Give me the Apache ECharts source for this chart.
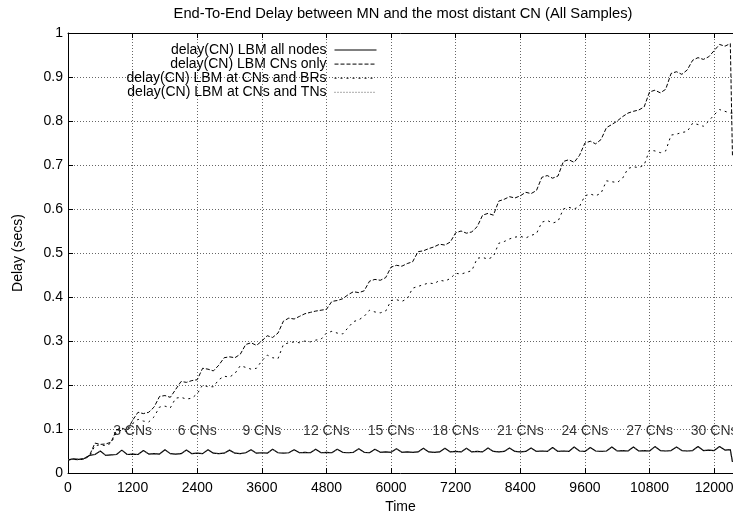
<!DOCTYPE html>
<html>
<head>
<meta charset="utf-8">
<script src="https://cdn.jsdelivr.net/npm/echarts@6/dist/echarts.min.js"></script>
<style>
    html, body { margin: 0; padding: 0; background: #fff; }
    #chart { width: 733px; height: 519px; }
</style>
</head>
<body>
<div id="chart"></div>
<script>
var times = [
    0, 100, 200, 300, 400, 500, 600, 700, 800, 900,
    1000, 1100, 1200, 1300, 1400, 1500, 1600, 1700, 1800, 1900,
    2000, 2100, 2200, 2300, 2400, 2500, 2600, 2700, 2800, 2900,
    3000, 3100, 3200, 3300, 3400, 3500, 3600, 3700, 3800, 3900,
    4000, 4100, 4200, 4300, 4400, 4500, 4600, 4700, 4800, 4900,
    5000, 5100, 5200, 5300, 5400, 5500, 5600, 5700, 5800, 5900,
    6000, 6100, 6200, 6300, 6400, 6500, 6600, 6700, 6800, 6900,
    7000, 7100, 7200, 7300, 7400, 7500, 7600, 7700, 7800, 7900,
    8000, 8100, 8200, 8300, 8400, 8500, 8600, 8700, 8800, 8900,
    9000, 9100, 9200, 9300, 9400, 9500, 9600, 9700, 9800, 9900,
    10000, 10100, 10200, 10300, 10400, 10500, 10600, 10700, 10800, 10900,
    11000, 11100, 11200, 11300, 11400, 11500, 11600, 11700, 11800, 11900,
    12000, 12100, 12200, 12300, 12320, 12340
];

var allNodesDelay = [
    0.030, 0.032, 0.031, 0.033, 0.040, 0.042, 0.050, 0.040, 0.041, 0.042,
    0.052, 0.042, 0.043, 0.042, 0.051, 0.043, 0.044, 0.043, 0.053, 0.044,
    0.043, 0.044, 0.052, 0.044, 0.045, 0.044, 0.053, 0.045, 0.044, 0.045,
    0.052, 0.045, 0.044, 0.046, 0.053, 0.045, 0.046, 0.045, 0.054, 0.046,
    0.045, 0.046, 0.053, 0.046, 0.047, 0.046, 0.054, 0.046, 0.047, 0.046,
    0.054, 0.047, 0.046, 0.047, 0.055, 0.047, 0.046, 0.054, 0.047, 0.048,
    0.047, 0.055, 0.047, 0.048, 0.047, 0.048, 0.056, 0.048, 0.047, 0.048,
    0.056, 0.048, 0.049, 0.048, 0.056, 0.048, 0.049, 0.048, 0.057, 0.049,
    0.048, 0.049, 0.057, 0.049, 0.048, 0.049, 0.057, 0.049, 0.050, 0.049,
    0.058, 0.049, 0.050, 0.049, 0.059, 0.050, 0.049, 0.058, 0.050, 0.049,
    0.050, 0.059, 0.050, 0.051, 0.050, 0.059, 0.050, 0.051, 0.050, 0.060,
    0.051, 0.050, 0.051, 0.059, 0.051, 0.050, 0.051, 0.060, 0.051, 0.052,
    0.051, 0.060, 0.052, 0.053, 0.056, 0.025
];

var cnsOnlyDelay = [
    0.030, 0.031, 0.030, 0.032, 0.040, 0.068, 0.065, 0.066, 0.070, 0.098,
    0.102, 0.097, 0.120, 0.138, 0.135, 0.138, 0.150, 0.174, 0.176, 0.172,
    0.190, 0.208, 0.206, 0.210, 0.212, 0.238, 0.236, 0.232, 0.245, 0.262,
    0.264, 0.262, 0.270, 0.292, 0.296, 0.290, 0.300, 0.312, 0.308, 0.318,
    0.345, 0.352, 0.350, 0.356, 0.362, 0.365, 0.368, 0.370, 0.372, 0.390,
    0.392, 0.396, 0.405, 0.412, 0.410, 0.414, 0.436, 0.440, 0.438, 0.444,
    0.468, 0.472, 0.470, 0.476, 0.480, 0.503, 0.505, 0.510, 0.514, 0.520,
    0.518, 0.525, 0.546, 0.550, 0.545, 0.548, 0.560, 0.586, 0.590, 0.586,
    0.618, 0.622, 0.628, 0.625, 0.630, 0.638, 0.635, 0.642, 0.672, 0.676,
    0.670, 0.675, 0.708, 0.712, 0.706, 0.722, 0.750, 0.754, 0.748, 0.758,
    0.785, 0.792, 0.800, 0.810, 0.818, 0.822, 0.825, 0.832, 0.866, 0.870,
    0.864, 0.872, 0.908, 0.912, 0.906, 0.916, 0.938, 0.944, 0.940, 0.946,
    0.960, 0.974, 0.970, 0.976, 0.972, 0.720
];

var cnsBrsDelay = [
    0.030, 0.031, 0.030, 0.032, 0.038, 0.062, 0.064, 0.062, 0.068, 0.092,
    0.098, 0.094, 0.112, 0.122, 0.118, 0.116, 0.128, 0.150, 0.152, 0.148,
    0.170, 0.172, 0.168, 0.170, 0.180, 0.200, 0.196, 0.196, 0.212, 0.220,
    0.218, 0.226, 0.244, 0.240, 0.236, 0.238, 0.255, 0.268, 0.262, 0.260,
    0.292, 0.296, 0.298, 0.296, 0.300, 0.298, 0.302, 0.304, 0.318, 0.322,
    0.318, 0.316, 0.330, 0.344, 0.348, 0.356, 0.370, 0.366, 0.364, 0.368,
    0.392, 0.394, 0.390, 0.396, 0.420, 0.424, 0.428, 0.432, 0.430, 0.438,
    0.436, 0.442, 0.454, 0.452, 0.456, 0.460, 0.488, 0.490, 0.486, 0.492,
    0.522, 0.526, 0.532, 0.536, 0.538, 0.534, 0.540, 0.544, 0.570, 0.574,
    0.568, 0.572, 0.600, 0.604, 0.600, 0.606, 0.630, 0.634, 0.630, 0.636,
    0.664, 0.662, 0.660, 0.670, 0.692, 0.696, 0.694, 0.700, 0.734, 0.732,
    0.728, 0.732, 0.768, 0.770, 0.774, 0.776, 0.795, 0.792, 0.788, 0.800,
    0.814, 0.826, 0.822, 0.818, 0.818, 0.818
];

// TNs curve lies on top of the all-nodes curve in the picture
var cnsTnsDelay = allNodesDelay.slice();

var seriesNames = [
    'delay(CN) LBM all nodes',
    'delay(CN) LBM CNs only',
    'delay(CN) LBM at CNs and BRs',
    'delay(CN) LBM at CNs and TNs'
];

var cnLabelTimes = [1200, 2400, 3600, 4800, 6000, 7200, 8400, 9600, 10800, 12000];
var cnLabelTexts = ['3 CNs', '6 CNs', '9 CNs', '12 CNs', '15 CNs', '18 CNs', '21 CNs', '24 CNs', '27 CNs', '30 CNs'];
var cnLabelLevel = 0.095;

var fontName = '"Liberation Sans", Arial, sans-serif';

function pairs(xs, ys) {
    var out = [];
    for (var i = 0; i < ys.length; i++) {
        out.push([xs[i], ys[i]]);
    }
    return out;
}

var chart = echarts.init(document.getElementById('chart'), null, {renderer: 'canvas'});

var gridLine = {show: true, lineStyle: {color: '#666', type: [1, 2], width: 1}};

var lineSeries = function (name, data, dash, color, width) {
    return {
        name: name,
        type: 'line',
        data: data,
        symbol: 'none',
        showSymbol: false,
        animation: false,
        lineStyle: {color: color, width: width, type: dash},
        itemStyle: {color: color}
    };
};

var labelData = [];
for (var k = 0; k < cnLabelTimes.length; k++) {
    labelData.push({value: [cnLabelTimes[k], cnLabelLevel], label: {formatter: cnLabelTexts[k]}});
}

var option = {
    backgroundColor: '#fff',
    textStyle: {fontFamily: fontName},
    title: {
        text: 'End-To-End Delay between MN and the most distant CN (All Samples)',
        left: 398,
        top: 1,
        textAlign: 'center',
        textStyle: {fontFamily: fontName, fontSize: 14.7, fontWeight: 'normal', color: '#000'}
    },
    legend: {
        data: seriesNames,
        orient: 'vertical',
        align: 'right',
        right: 351,
        top: 38,
        itemWidth: 42,
        itemHeight: 13.6,
        itemGap: 0.1,
        itemStyle: {opacity: 0},
        lineStyle: {width: 1},
        textStyle: {fontFamily: fontName, fontSize: 14, color: '#000', lineHeight: 13.6, padding: [0, 3, 0, 0]}
    },
    grid: {left: 68, top: 33, width: 665, height: 440, containLabel: false, outerBoundsMode: 'none'},
    xAxis: [
        {
            type: 'value',
            min: 0,
            max: 12350,
            interval: 1200,
            name: 'Time',
            nameLocation: 'middle',
            nameGap: 27,
            nameTextStyle: {fontFamily: fontName, fontSize: 14, color: '#000'},
            axisLine: {show: true, onZero: false, lineStyle: {color: '#000', width: 1}},
            axisTick: {show: true, inside: true, length: 5, lineStyle: {color: '#000'}},
            axisLabel: {
                fontFamily: fontName, fontSize: 14, color: '#000', margin: 8, showMaxLabel: false,
                formatter: function (v) { return String(v); }
            },
            splitLine: gridLine
        },
        {
            type: 'value',
            position: 'top',
            min: 0,
            max: 12350,
            interval: 1200,
            axisLine: {show: true, onZero: false, lineStyle: {color: '#000', width: 1}},
            axisTick: {show: true, inside: true, length: 5, lineStyle: {color: '#000'}},
            axisLabel: {show: false},
            splitLine: {show: false}
        }
    ],
    yAxis: {
        type: 'value',
        min: 0,
        max: 1,
        interval: 0.1,
        name: 'Delay (secs)',
        nameLocation: 'middle',
        nameGap: 43,
        nameRotate: 90,
        nameTextStyle: {fontFamily: fontName, fontSize: 14, color: '#000'},
        axisLine: {show: true, lineStyle: {color: '#000', width: 1}},
        axisTick: {show: true, inside: true, length: 5, lineStyle: {color: '#000'}},
        axisLabel: {fontFamily: fontName, fontSize: 14, color: '#000', margin: 5},
        splitLine: gridLine
    },
    series: [
        lineSeries(seriesNames[0], pairs(times, allNodesDelay), 'solid', '#000', 1.2),
        lineSeries(seriesNames[1], pairs(times, cnsOnlyDelay), [4, 2], '#000', 1),
        lineSeries(seriesNames[2], pairs(times, cnsBrsDelay), [2, 4], '#000', 1),
        lineSeries(seriesNames[3], pairs(times, cnsTnsDelay), [1, 2], '#555', 1),
        {
            type: 'scatter',
            data: labelData,
            symbolSize: 1,
            itemStyle: {color: 'rgba(0,0,0,0)'},
            silent: true,
            animation: false,
            label: {
                show: true,
                position: 'inside',
                fontFamily: fontName,
                fontSize: 14,
                color: '#000'
            }
        }
    ]
};

chart.setOption(option);
</script>
</body>
</html>
